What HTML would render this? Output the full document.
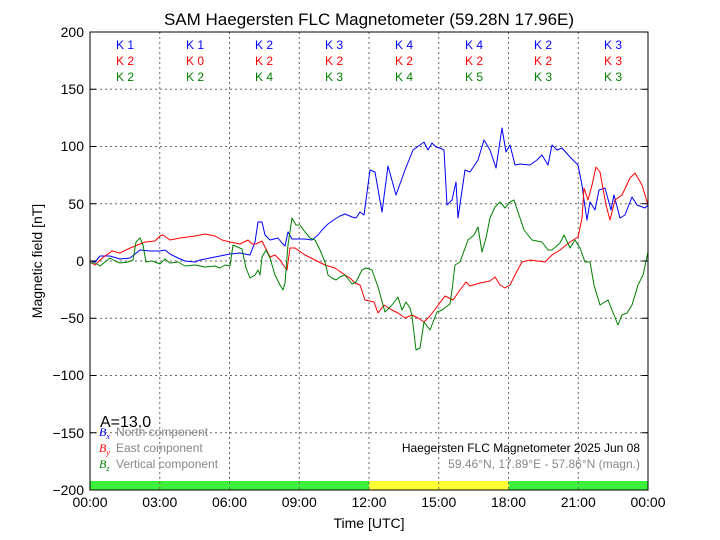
<!DOCTYPE html>
<html><head><meta charset="utf-8"><style>
html,body{margin:0;padding:0;background:#fff;}
svg{display:block;font-family:"Liberation Sans",sans-serif;}
</style></head><body>
<svg width="720" height="540" viewBox="0 0 720 540" xmlns="http://www.w3.org/2000/svg">
<rect width="720" height="540" fill="#fff"/>
<text x="369" y="25" font-size="17" text-anchor="middle">SAM Haegersten FLC Magnetometer (59.28N 17.96E)</text>
<!-- activity bar -->
<rect x="90" y="481" width="279" height="9" fill="#3cf03c"/>
<rect x="369" y="481" width="140" height="9" fill="#ffff33"/>
<rect x="509" y="481" width="139" height="9" fill="#3cf03c"/>
<!-- grid -->
<g stroke="#666" stroke-width="1" stroke-dasharray="2,3">
<line x1="159.75" y1="32" x2="159.75" y2="490"/><line x1="229.5" y1="32" x2="229.5" y2="490"/>
<line x1="299.25" y1="32" x2="299.25" y2="490"/><line x1="369" y1="32" x2="369" y2="490"/>
<line x1="438.75" y1="32" x2="438.75" y2="490"/><line x1="508.5" y1="32" x2="508.5" y2="490"/>
<line x1="578.25" y1="32" x2="578.25" y2="490"/>
<line x1="90" y1="89.25" x2="648" y2="89.25"/><line x1="90" y1="146.5" x2="648" y2="146.5"/>
<line x1="90" y1="203.75" x2="648" y2="203.75"/><line x1="90" y1="261" x2="648" y2="261"/>
<line x1="90" y1="318.25" x2="648" y2="318.25"/><line x1="90" y1="375.5" x2="648" y2="375.5"/>
<line x1="90" y1="432.75" x2="648" y2="432.75"/>
</g>
<g fill="none" stroke-width="1" stroke-linejoin="round">
<polyline stroke="#0000ff" points="90,261 95,262 100,256 110,256 120,259 130,258 140,250 150,251 160,251 165,250 170,254 178,258 185,261 195,262 200,260 210,258 215,257 220,256 230,254 240,253 245,254 250,255 255,242 258,222 262,222 265,235 270,240 278,238 282,243 285,246 288,232 292,239 298,239 305,239 312,240 318,235 322,230 328,224 335,219 340,216 345,214 352,217 356,218 360,212 364,215 370,170 375,172 382,212 388,166 396,195 405,170 413,150 420,145 424,142 428,150 432,143 436,147 440,148 444,150 447,205 452,200 456,182 458,218 465,170 470,172 478,160 484,140 490,150 496,168 502,128 506,152 510,145 515,165 520,164 530,165 537,160 542,155 548,165 552,145 557,150 562,148 570,157 578,165 582,185 584,200 587,220 590,202 595,210 599,190 605,188 611,210 614,195 620,218 625,215 632,197 637,205 645,208 648,205"/>
<polyline stroke="#ff0000" points="90,262 95,265 100,260 105,256 112,251 120,253 128,249 135,246 145,242 155,241 160,236 163,235 170,240 180,238 195,236 205,234 215,236 222,240 230,242 240,244 248,240 252,244 256,244 262,241 265,247 270,257 275,255 280,260 284,266 287,270 290,248 295,248 305,255 315,260 325,265 335,268 345,275 350,278 355,283 360,285 365,300 374,302 378,313 384,305 392,310 398,313 405,318 412,315 418,318 424,322 430,316 436,308 445,296 453,300 460,290 466,282 470,286 480,283 490,281 495,277 500,285 505,288 510,285 516,273 522,262 530,260 545,262 552,255 560,250 570,242 578,237 582,218 584,188 588,200 592,185 596,167 600,172 606,205 610,220 615,200 622,195 630,178 635,173 642,185 648,205"/>
<polyline stroke="#008000" points="90,263 95,263 100,266 105,262 110,258 115,261 120,263 128,262 133,260 136,242 140,238 143,245 146,262 152,261 160,264 165,259 170,263 178,262 185,266 195,265 205,267 215,266 220,268 225,265 230,266 233,245 242,249 246,268 250,278 255,275 258,270 260,275 262,257 266,250 270,258 275,275 280,285 283,290 285,283 288,245 292,218 296,225 300,225 305,232 310,238 315,240 320,250 325,262 328,275 332,278 336,280 340,277 345,275 352,284 356,282 362,270 366,268 372,270 378,287 385,312 392,305 398,297 402,310 406,302 410,308 412,316 416,350 420,348 424,322 430,330 437,312 442,310 450,304 452,290 455,265 460,262 468,240 474,235 478,227 482,252 486,238 490,218 495,207 500,202 505,208 510,202 514,200 518,212 524,230 532,240 542,242 548,250 552,250 560,243 564,235 570,248 575,240 580,248 585,262 590,262 594,285 600,305 608,300 612,310 618,325 622,315 627,313 632,305 638,285 643,275 648,252"/>
</g>
<rect x="90" y="32" width="558" height="458" fill="none" stroke="#000" stroke-width="1"/>
<!-- ticks -->
<g stroke="#000">
<line x1="90" y1="89.25" x2="96" y2="89.25"/><line x1="90" y1="146.5" x2="96" y2="146.5"/><line x1="90" y1="203.75" x2="96" y2="203.75"/><line x1="90" y1="261" x2="96" y2="261"/><line x1="90" y1="318.25" x2="96" y2="318.25"/><line x1="90" y1="375.5" x2="96" y2="375.5"/><line x1="90" y1="432.75" x2="96" y2="432.75"/>
<line x1="648" y1="89.25" x2="642" y2="89.25"/><line x1="648" y1="146.5" x2="642" y2="146.5"/><line x1="648" y1="203.75" x2="642" y2="203.75"/><line x1="648" y1="261" x2="642" y2="261"/><line x1="648" y1="318.25" x2="642" y2="318.25"/><line x1="648" y1="375.5" x2="642" y2="375.5"/><line x1="648" y1="432.75" x2="642" y2="432.75"/>
</g>
<g font-size="14" text-anchor="end">
<text x="84" y="37">200</text><text x="84" y="94">150</text><text x="84" y="151">100</text><text x="84" y="209">50</text><text x="84" y="266">0</text><text x="84" y="323">−50</text><text x="84" y="380">−100</text><text x="84" y="438">−150</text><text x="84" y="495">−200</text>
</g>
<g font-size="14" text-anchor="middle">
<text x="90" y="507">00:00</text><text x="159.75" y="507">03:00</text><text x="229.5" y="507">06:00</text><text x="299.25" y="507">09:00</text><text x="369" y="507">12:00</text><text x="438.75" y="507">15:00</text><text x="508.5" y="507">18:00</text><text x="578.25" y="507">21:00</text><text x="648" y="507">00:00</text>
</g>
<text x="369" y="528" font-size="14" text-anchor="middle">Time [UTC]</text>
<text transform="translate(42,261) rotate(-90)" font-size="14" text-anchor="middle">Magnetic field [nT]</text>
<!-- K indices -->
<g font-size="12" text-anchor="middle">
<g fill="#0000ff"><text x="125" y="49">K 1</text><text x="195" y="49">K 1</text><text x="264" y="49">K 2</text><text x="334" y="49">K 3</text><text x="404" y="49">K 4</text><text x="474" y="49">K 4</text><text x="543" y="49">K 2</text><text x="613" y="49">K 3</text></g>
<g fill="#ff0000"><text x="125" y="65">K 2</text><text x="195" y="65">K 0</text><text x="264" y="65">K 2</text><text x="334" y="65">K 2</text><text x="404" y="65">K 2</text><text x="474" y="65">K 2</text><text x="543" y="65">K 2</text><text x="613" y="65">K 3</text></g>
<g fill="#008000"><text x="125" y="81">K 2</text><text x="195" y="81">K 2</text><text x="264" y="81">K 4</text><text x="334" y="81">K 3</text><text x="404" y="81">K 4</text><text x="474" y="81">K 5</text><text x="543" y="81">K 3</text><text x="613" y="81">K 3</text></g>
</g>
<text x="100" y="427" font-size="16">A=13.0</text>
<g font-size="12">
<text x="99" y="436" fill="#0000ff" font-family="Liberation Serif" font-style="italic">B<tspan font-size="8" dy="3">x</tspan></text>
<text x="116" y="436" fill="#888">North component</text>
<text x="99" y="452" fill="#ff0000" font-family="Liberation Serif" font-style="italic">B<tspan font-size="8" dy="3">y</tspan></text>
<text x="116" y="452" fill="#888">East component</text>
<text x="99" y="468" fill="#008000" font-family="Liberation Serif" font-style="italic">B<tspan font-size="8" dy="3">z</tspan></text>
<text x="116" y="468" fill="#888">Vertical component</text>
<text x="640" y="452" text-anchor="end">Haegersten FLC Magnetometer 2025 Jun 08</text>
<text x="640" y="468" text-anchor="end" fill="#888">59.46°N, 17.89°E - 57.86°N (magn.)</text>
</g>
</svg>
</body></html>
